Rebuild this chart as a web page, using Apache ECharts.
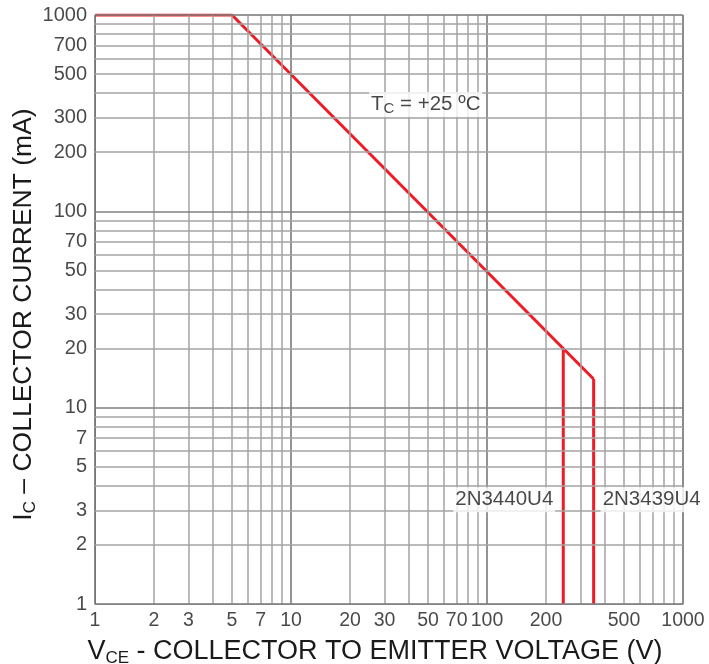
<!DOCTYPE html>
<html>
<head>
<meta charset="utf-8">
<script src="https://cdn.jsdelivr.net/npm/echarts@6/dist/echarts.min.js"></script>
<style>
html,body{margin:0;padding:0;background:#fff;}
#chart{width:709px;height:664px;}
</style>
</head>
<body>
<div id="chart"></div>
<script>
// ---- data ----
const xGridValues = [1,2,3,4,5,6,7,8,9,10,20,30,40,50,60,70,80,90,100,200,300,400,500,600,700,800,900,1000];
const yGridValues = [1,2,3,4,5,6,7,8,9,10,20,30,40,50,60,70,80,90,100,200,300,400,500,600,700,800,900,1000];
const xMajor = [1,10,100,1000];
const yMajor = [1,10,100,1000];
const xTickLabels = [1,2,3,5,7,10,20,30,50,70,100,200,500,1000];
const yTickLabels = [1,2,3,5,7,10,20,30,50,70,100,200,300,500,700,1000];
// safe operating area boundary (V, mA)
const soaCurve = [[1,1000],[5,1000],[245,20],[350,14]];
const line2N3440 = [[245,20],[245,1]];
const line2N3439 = [[350,14],[350,1]];
const annotations = [
  {name:'tc', value:[25,350]},
  {name:'2N3440U4', value:[245,3.4]},
  {name:'2N3439U4', value:[350,3.4]}
];

const FONT = 'Liberation Sans, Arial, sans-serif';
const RED = '#ee1c25';
const TXT = '#1a1a1a';

const chart = echarts.init(document.getElementById('chart'), null, {renderer:'canvas'});

const gridLines = [];
xGridValues.forEach(v => gridLines.push({xAxis:v, lineStyle:{color: xMajor.includes(v)?'#707070':'#a3a3a3', width:1.5}}));
yGridValues.forEach(v => gridLines.push({yAxis:v, lineStyle:{color: yMajor.includes(v)?'#808080':'#a3a3a3', width:1.5}}));

const option = {
  animation:false,
  backgroundColor:'#fff',
  grid:{left:95, right:26, top:15, bottom:60, outerBoundsMode:'none', containLabel:false,
    show:true, borderColor:'#b8b8b8', borderWidth:1},
  xAxis:{
    type:'log', logBase:10, min:1, max:1000,
    axisLine:{show:true, lineStyle:{color:'#8a8a8a', width:1}},
    axisTick:{show:false}, axisLabel:{show:false}, splitLine:{show:false},
    name:'{m|V}{s|CE}{m| - COLLECTOR TO EMITTER VOLTAGE (V)}',
    nameLocation:'middle', nameGap:33,
    nameTextStyle:{
      padding:[0,28,0,0],
      rich:{
        m:{fontFamily:FONT, fontSize:27, color:TXT, lineHeight:30},
        s:{fontFamily:FONT, fontSize:17, color:TXT, lineHeight:16, verticalAlign:'bottom'}
      }
    }
  },
  yAxis:{
    type:'log', logBase:10, min:1, max:1000,
    axisLine:{show:true, lineStyle:{color:'#8a8a8a', width:1}},
    axisTick:{show:false}, axisLabel:{show:false}, splitLine:{show:false},
    name:'{m|I}{s|C}{m| – COLLECTOR CURRENT (mA)}',
    nameLocation:'middle', nameGap:56,
    nameTextStyle:{
      padding:[0,10,0,0],
      rich:{
        m:{fontFamily:FONT, fontSize:26.5, color:TXT, lineHeight:30},
        s:{fontFamily:FONT, fontSize:17, color:TXT, lineHeight:16, verticalAlign:'bottom'}
      }
    }
  },
  series:[
    {
      type:'line', name:'grid', data:[], z:1, silent:true,
      markLine:{silent:true, symbol:['none','none'], label:{show:false}, animation:false,
        lineStyle:{type:'solid'}, data:gridLines}
    },
    {
      type:'line', name:'SOA', data:soaCurve, z:3, symbol:'none', silent:true,
      lineStyle:{color:RED, width:3}
    },
    {
      type:'line', name:'2N3440U4', data:line2N3440, z:3, symbol:'none', silent:true,
      lineStyle:{color:RED, width:3}
    },
    {
      type:'line', name:'2N3439U4', data:line2N3439, z:3, symbol:'none', silent:true,
      lineStyle:{color:RED, width:3}
    },
    {
      type:'scatter', name:'xticks', z:4, symbolSize:0, silent:true, clip:false,
      data:xTickLabels.map(v=>[v,1]),
      label:{show:true, position:'bottom', distance:7, formatter:p=>String(p.value[0]),
        fontFamily:FONT, fontSize:19.5, color:TXT}
    },
    {
      type:'scatter', name:'yticks', z:4, symbolSize:0, silent:true, clip:false,
      data:yTickLabels.map(v=>[1,v]),
      label:{show:true, position:'left', distance:8, formatter:p=>String(p.value[1]),
        fontFamily:FONT, fontSize:20, color:TXT}
    },
    {
      type:'scatter', name:'notes', z:5, symbolSize:0, silent:true, clip:false,
      data:[
        {value:annotations[0].value, label:{position:'right', distance:0,
          formatter:'{m|T}{s|C}{m| = +25 ºC}'}},
        {value:annotations[1].value, label:{position:'left', distance:8,
          formatter:'{m|2N3440U4}'}},
        {value:annotations[2].value, label:{position:'right', distance:7,
          formatter:'{m|2N3439U4}'}}
      ],
      label:{show:true, backgroundColor:'#fff', padding:[1,2,1,2],
        rich:{
          m:{fontFamily:FONT, fontSize:20.5, color:TXT, lineHeight:23},
          s:{fontFamily:FONT, fontSize:15, color:TXT, lineHeight:15, verticalAlign:'bottom'}
        }}
    }
  ]
};
chart.setOption(option);
</script>
</body>
</html>
